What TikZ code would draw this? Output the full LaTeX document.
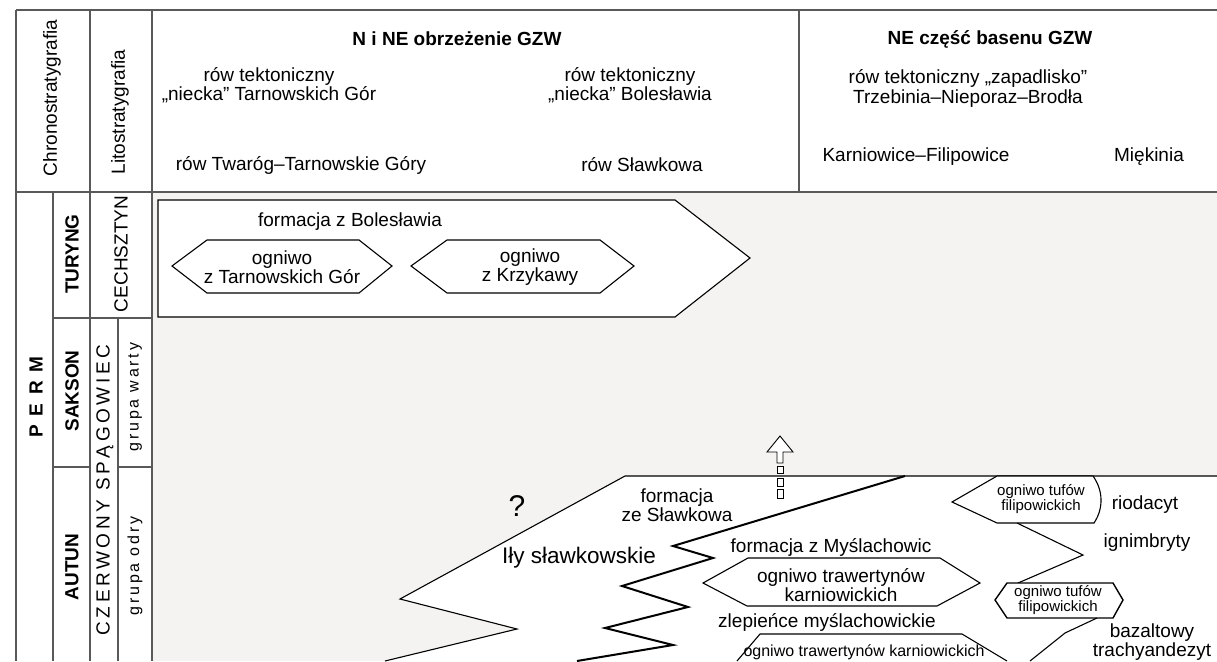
\documentclass[tikz,border=0pt]{standalone}
\usepackage{fontspec}
\setmainfont{Liberation Sans}
\definecolor{bgray}{HTML}{F4F3F1}
\begin{document}
\begin{tikzpicture}[x=1pt,y=-1pt,
  frame/.style={draw=black!65, line width=1.2pt},
  bound/.style={draw=black, line width=1.1pt, line join=miter},
  thickb/.style={draw=black, line width=2pt, line join=miter},
  lbl/.style={inner sep=0pt, align=center, font=\fontsize{19}{17.5}\selectfont},
  lblb/.style={inner sep=0pt, align=center, font=\fontsize{19}{17.5}\selectfont\bfseries},
  lbls/.style={inner sep=0pt, align=center, font=\fontsize{15}{15.5}\selectfont},
]
\useasboundingbox (0,0) rectangle (1217,661);
\fill[white] (0,0) rectangle (1217,661);
\fill[bgray] (152,192) rectangle (1217,661);

% Boleslawia formation box
\draw[bound, fill=white] (158,200) -- (675,200) -- (750,258) -- (675,317) -- (158,317) -- cycle;
\draw[bound, fill=white] (172,266) -- (207,240) -- (359,240) -- (392,266) -- (359,293) -- (207,293) -- cycle;
\draw[bound, fill=white] (411,266) -- (447,240) -- (600,240) -- (634,266) -- (600,293) -- (447,293) -- cycle;
\node[lbl] (fbol) at (350,222) {formacja z Bolesławia};
\node[lbl] (otg) at (282,267) {ogniwo\\z Tarnowskich Gór};
\node[lbl] (okr) at (530,267) {ogniwo\\z Krzykawy};

% lower white region
\fill[white] (1217,476) -- (625,476) -- (400,599) -- (517,629) -- (385,661) -- (1217,661) -- cycle;
\draw[bound] (1217,476) -- (625,476) -- (400,599) -- (517,629) -- (385,661);

% thick zigzag
\draw[thickb] (905,476) -- (673,546) -- (713,558) -- (622,586) -- (688,607) -- (605,628) -- (673,645) -- (577,661);

% middle hexagon
\draw[bound] (703,583) -- (748,558) -- (940,558) -- (980,583) -- (937,606) -- (747,606) -- cycle;
% bottom hexagon
\draw[bound] (737,661) -- (760,634) -- (962,634) -- (1007,661);

% volcanic units
\draw[bound, fill=white] (1093,476) -- (997,476) -- (952,502) -- (997,523) -- (1094,523) .. controls (1104,508) and (1103,490) .. cycle;
\draw[bound] (1017,523) -- (1083,555) -- (1018,583);
\draw[draw=black, line width=1.4pt, fill=white] (995,600) -- (1007,583) -- (1113,583) -- (1123,600) -- (1113,618) -- (1007,618) -- cycle;
\draw[bound] (1097,618) -- (1065,633) -- (1030,661);

% arrow
\draw[black, line width=0.9pt, fill=white] (780,436) -- (793,452) -- (783,452) -- (783,463) -- (777,463) -- (777,452) -- (767,452) -- cycle;
\draw[black, line width=0.8pt, fill=white] (777,466) rectangle (783,473);
\draw[black, line width=0.8pt, fill=white] (777,478) rectangle (783,486);
\draw[black, line width=0.8pt, fill=white] (777,489) rectangle (783,498);

% lower labels
\node[lbl, font=\fontsize{30}{30}\selectfont] (qm) at (517,506) {?};
\node[lbl] (fsl) at (677,505) {formacja\\ze Sławkowa};
\node[lbl, font=\fontsize{22.5}{24}\selectfont] (ily) at (579,558) {Iły sławkowskie};
\node[lbl] (fmy) at (831,547) {formacja z Myślachowic};
\node[lbl] (otk) at (841,585) {ogniwo trawertynów\\karniowickich};
\node[lbl] (zlm) at (827,622) {zlepieńce myślachowickie};
\node[lbl, font=\fontsize{16}{17}\selectfont] (otk2) at (864,652) {ogniwo trawertynów karniowickich};
\node[lbls] (otf1) at (1041,499) {ogniwo tufów\\filipowickich};
\node[lbls] (otf2) at (1058,600) {ogniwo tufów\\filipowickich};
\node[lbl] (rio) at (1145,505) {riodacyt};
\node[lbl] (ign) at (1147,543) {ignimbryty};
\node[lbl] (baz) at (1152,642) {bazaltowy\\trachyandezyt};

% header
\node[lblb] (hN) at (457,39) {N i NE obrzeżenie GZW};
\node[lblb] (hNE) at (990,39) {NE część basenu GZW};
\node[lbl] (tr1) at (269,85) {rów tektoniczny\\„niecka” Tarnowskich Gór};
\node[lbl] (tr2) at (630,85) {rów tektoniczny\\„niecka” Bolesławia};
\node[lbl, font=\fontsize{19}{20}\selectfont] (tr3) at (968,88) {rów tektoniczny „zapadlisko”\\Trzebinia–Nieporaz–Brodła};
\node[lbl] (r1) at (301,165) {rów Twaróg–Tarnowskie Góry};
\node[lbl] (r2) at (642,165) {rów Sławkowa};
\node[lbl] (r3) at (916,157) {Karniowice–Filipowice};
\node[lbl] (r4) at (1149,157) {Miękinia};

% left columns
\node[lbl, rotate=90] (chrono) at (52,98) {Chronostratygrafia};
\node[lbl, rotate=90] (lito) at (120,112) {Litostratygrafia};
\node[lblb, rotate=90] (perm) at (36,397) {P\hspace{8.5pt}E\hspace{8.5pt}R\hspace{8.5pt}M};
\node[lblb, rotate=90] (tur) at (72,254) {TURYNG};
\node[lblb, rotate=90] (sak) at (72,391) {SAKSON};
\node[lblb, rotate=90] (aut) at (72,567) {AUTUN};
\node[lbl, rotate=90] (cech) at (121,254) {CECHSZTYN};
\node[lbl, rotate=90] (czs) at (105,490) {\addfontfeatures{LetterSpace=19}CZERWONY SPĄGOWIEC};
\node[lbl, rotate=90, font=\fontsize{16}{17}\selectfont] (gw) at (135,397) {\addfontfeatures{LetterSpace=17}grupa warty};
\node[lbl, rotate=90, font=\fontsize{16}{17}\selectfont] (go) at (135,566) {\addfontfeatures{LetterSpace=17}grupa odry};

% frame
\draw[frame] (16,10) -- (1217,10);
\draw[frame] (16,10) -- (16,661);
\draw[frame] (90,10) -- (90,661);
\draw[frame] (152,10) -- (152,661);
\draw[frame] (799,10) -- (799,192);
\draw[frame] (16,192) -- (1217,192);
\draw[frame] (53,192) -- (53,661);
\draw[frame] (53,318) -- (152,318);
\draw[frame] (118,318) -- (118,661);
\draw[frame] (53,467) -- (90,467);
\draw[frame] (118,467) -- (152,467);
\end{tikzpicture}
\end{document}
